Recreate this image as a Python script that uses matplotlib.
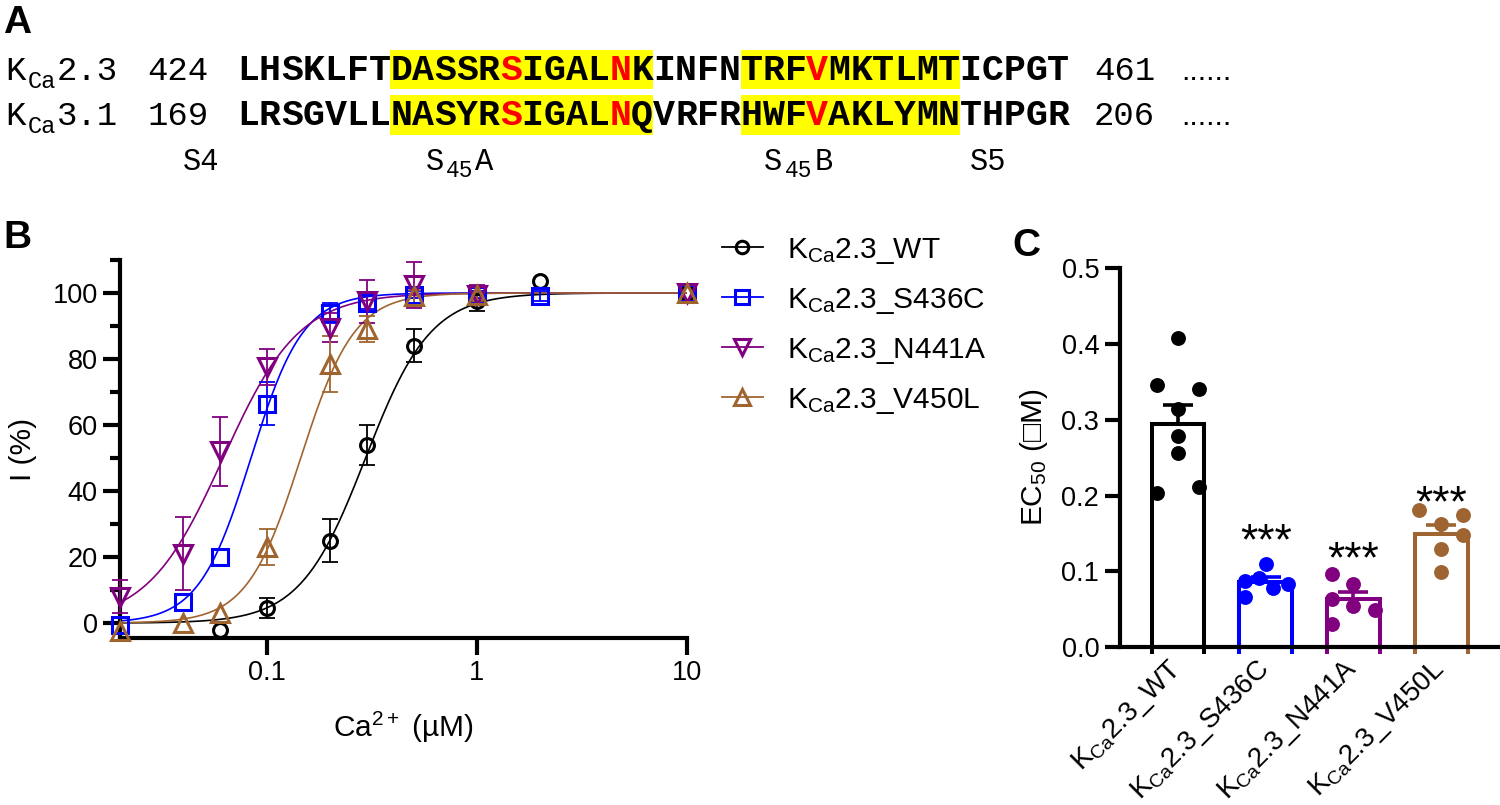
import numpy as np
import matplotlib
matplotlib.use("Agg")
import matplotlib.pyplot as plt
from matplotlib.patches import Rectangle
from matplotlib.ticker import MultipleLocator, NullLocator

plt.rcParams['font.family'] = ['Liberation Sans', 'DejaVu Sans']
plt.rcParams['mathtext.fontset'] = 'custom'
plt.rcParams['mathtext.rm'] = 'Liberation Sans'
plt.rcParams['mathtext.it'] = 'Liberation Sans:italic'
plt.rcParams['mathtext.bf'] = 'Liberation Sans:bold'

######################
## PANEL A : ALIGN  ##
######################
chan_names = ['2.3', '3.1']
seq_first = ['424', '169']
seq_last = ['461', '206']
seqs = ['LHSKLFTDASSRSIGALNKINFNTRFVMKTLMTICPGT',
        'LRSGVLLNASYRSIGALNQVRFRHWFVAKLYMNTHPGR']
hl_blocks = [(7, 19), (23, 33)]     # highlighted residue ranges
red_res = [12, 17, 26]              # S436 / N441 / V450 positions

######################
## PANEL B : CURVES ##
######################
labels = ['WT', 'S436C', 'N441A', 'V450L']
colors = ['black', '#0000FF', '#800080', '#A0652F']
markers = ['o', 's', 'v', '^']

conc_wt = [0.06, 0.1, 0.2, 0.3, 0.5, 1, 2, 10]
i_wt = [-2, 4.5, 25, 54, 84, 97.5, 103.5, 100]
e_wt = [0, 3, 6.5, 6, 5, 3, 0, 0]

conc_s = [0.02, 0.04, 0.06, 0.1, 0.2, 0.3, 0.5, 1, 2, 10]
i_s = [-0.5, 6.5, 20, 66.5, 94, 97, 99.5, 99.5, 99, 100]
e_s = [0, 0, 0, 6.5, 3, 2, 1, 1, 1.5, 0]

conc_n = [0.02, 0.04, 0.06, 0.1, 0.2, 0.3, 0.5, 1, 10]
i_n = [8, 21, 52, 77.5, 89.5, 97.5, 102.5, 99.5, 100]
e_n = [5, 11, 10.5, 5.5, 4.5, 6.5, 7, 3, 0]

conc_v = [0.02, 0.04, 0.06, 0.1, 0.2, 0.3, 0.5, 1, 10]
i_v = [-2.5, 0, 3, 23, 78.5, 89, 99, 99.5, 100]
e_v = [0, 0, 0, 5.5, 8.5, 4, 2, 2, 0]

fit_ec50 = [0.295, 0.084, 0.062, 0.145]
fit_hill = [2.8, 3.5, 2.4, 3.4]

######################
## PANEL C : EC50   ##
######################
ec_wt = [0.408, 0.346, 0.341, 0.314, 0.278, 0.256, 0.203, 0.211]
ec_s = [0.110, 0.088, 0.091, 0.078, 0.084, 0.066]
ec_n = [0.097, 0.084, 0.064, 0.055, 0.049, 0.031]
ec_v = [0.181, 0.174, 0.163, 0.148, 0.130, 0.099]
# horizontal scatter of the dots inside each bar
jit_wt = [0, -0.24, 0.24, 0, 0, 0, -0.24, 0.24]
jit_s = [0, -0.24, -0.08, 0.08, 0.25, -0.24]
jit_n = [-0.24, 0, -0.24, 0, 0.25, -0.24]
jit_v = [-0.25, 0.25, 0, 0.25, 0, 0]
star_base = [None, 0.123, 0.099, 0.173]


fig = plt.figure(figsize=(15, 8.05), dpi=100)

# full-figure axes in pixel units for the sequence panel, legend and letters
axA = fig.add_axes([0, 0, 1, 1])
axA.set_xlim(0, 1500)
axA.set_ylim(805, 0)
axA.axis('off')

cw = 21.9
x0 = 237
row_base = [80, 125]
row_box = [(50, 89), (95, 135)]
mono = 'Liberation Mono'
for r in range(2):
    for a, b in hl_blocks:
        axA.add_patch(Rectangle((x0 + a * cw, row_box[r][0]), (b - a) * cw,
                                row_box[r][1] - row_box[r][0],
                                facecolor='#FFFF00', lw=0))
    for i, ch in enumerate(seqs[r]):
        axA.text(x0 + (i + 0.5) * cw, row_base[r], ch, family=mono,
                 weight='bold', size=26.3, ha='center', va='baseline',
                 color='red' if i in red_res else 'black')
    yb = row_base[r]
    axA.text(5, yb, 'K', family=mono, size=24.5, va='baseline')
    axA.text(28, yb + 8, 'Ca', family=mono, size=17, va='baseline')
    axA.text(57, yb, chan_names[r], family=mono, size=24.5, va='baseline')
    axA.text(147, yb, seq_first[r], family=mono, size=24.5, va='baseline')
    axA.text(1094, yb, seq_last[r], family=mono, size=24.5, va='baseline')
    axA.text(1181, yb, '......', size=22, va='baseline')

sb = 170
axA.text(183, sb, 'S4', family=mono, size=22, va='baseline')
axA.text(426, sb, 'S', family=mono, size=22, va='baseline')
axA.text(446, sb + 7, '45', family=mono, size=16.5, va='baseline')
axA.text(475, sb, 'A', family=mono, size=22, va='baseline')
axA.text(764, sb, 'S', family=mono, size=22, va='baseline')
axA.text(785, sb + 7, '45', family=mono, size=16.5, va='baseline')
axA.text(815, sb, 'B', family=mono, size=22, va='baseline')
axA.text(970, sb, 'S5', family=mono, size=22, va='baseline')

axA.text(3, 33, 'A', weight='bold', size=28, va='baseline')
axA.text(3, 248, 'B', weight='bold', size=28, va='baseline')
axA.text(1012, 256, 'C', weight='bold', size=28, va='baseline')

#############
## PANEL B ##
#############
axB = fig.add_axes([0.08, 0.2075, 0.378, 0.4696])
axB.set_xscale('log')
axB.set_xlim(0.02, 10)
axB.set_ylim(-4.5, 110)

xx = np.logspace(np.log10(0.02), 1, 400)
series = [(conc_wt, i_wt, e_wt), (conc_s, i_s, e_s),
          (conc_n, i_n, e_n), (conc_v, i_v, e_v)]
msize = [10, 11, 13, 13]
for k, (cx, cy, ce) in enumerate(series):
    col = colors[k]
    ec, nh = fit_ec50[k], fit_hill[k]
    axB.plot(xx, 100 * xx**nh / (ec**nh + xx**nh), color=col, lw=1.2, zorder=2)
    cx, cy, ce = np.array(cx), np.array(cy), np.array(ce)
    m = ce > 0
    axB.errorbar(cx[m], cy[m], yerr=ce[m], fmt='none', ecolor=col,
                 elinewidth=1.3, capsize=5.5, capthick=1.3, zorder=3,
                 clip_on=False)
    axB.plot(cx, cy, ls='none', marker=markers[k], ms=msize[k], mfc='none',
             mec=col, mew=2.2, zorder=4, clip_on=False)

for s in ['top', 'right']:
    axB.spines[s].set_visible(False)
for s in ['left', 'bottom']:
    axB.spines[s].set_linewidth(3)
axB.set_xticks([0.1, 1, 10])
axB.set_xticklabels(['0.1', '1', '10'])
axB.xaxis.set_minor_locator(NullLocator())
axB.set_yticks(range(0, 101, 20))
axB.yaxis.set_minor_locator(MultipleLocator(10))
axB.tick_params(which='major', length=12, width=3, labelsize=19.5, pad=4)
axB.tick_params(which='minor', length=7, width=3)
axB.set_ylabel('I (%)', size=21.5)
axB.yaxis.set_label_coords(-0.146, 0.5)
axB.set_xlabel('Ca$^{2+}$ (\u00b5M)', size=21.5, va='top')
axB.xaxis.set_label_coords(0.5, -0.19)

# legend
leg_y = [247, 297, 347, 397]
for k in range(4):
    y = leg_y[k]
    axA.plot([722, 763], [y, y], color=colors[k], lw=1.3)
    axA.plot([742], [y], ls='none', marker=markers[k], ms=msize[k] - 1,
             mfc='none', mec=colors[k], mew=2.2)
    axA.text(787, y + 11, 'K$_{\\mathrm{Ca}}$2.3_' + labels[k], size=21.5,
             va='baseline')

#############
## PANEL C ##
#############
axC = fig.add_axes([0.7467, 0.196, 0.2533, 0.4708])
groups = [(ec_wt, jit_wt), (ec_s, jit_s), (ec_n, jit_n), (ec_v, jit_v)]
dotcol = ['black', '#0000FF', '#800080', '#9E6432']
bw = 0.6
for k, (pts, jit) in enumerate(groups):
    pts = np.array(pts)
    mean = pts.mean()
    sem = pts.std(ddof=1) / np.sqrt(len(pts))
    axC.bar(k, mean, width=bw, facecolor='white', edgecolor=dotcol[k],
            lw=2.9, zorder=2, joinstyle='miter')
    axC.vlines([k - bw / 2, k + bw / 2], -0.009, 0, color=dotcol[k], lw=2.9,
               clip_on=False, zorder=2)
    axC.scatter(k + np.array(jit), pts, s=115, color=dotcol[k], zorder=3,
                clip_on=False, linewidths=0)
    axC.errorbar([k], [mean], yerr=[[0], [sem]], fmt='none', ecolor=dotcol[k],
                 elinewidth=2.6, capsize=11, capthick=2.6, zorder=4)
    if star_base[k] is not None:
        axC.text(k, star_base[k], '***', ha='center', va='baseline', size=32)

axC.set_xlim(-0.66, 3.67)
axC.set_ylim(0, 0.5)
for s in ['top', 'right']:
    axC.spines[s].set_visible(False)
for s in ['left', 'bottom']:
    axC.spines[s].set_linewidth(3)
axC.spines['bottom'].set_zorder(5)
axC.set_yticks(np.arange(0, 0.51, 0.1))
axC.set_yticklabels(['%.1f' % v for v in np.arange(0, 0.51, 0.1)])
axC.tick_params(axis='y', length=11, width=3, labelsize=19.5, pad=4)
axC.set_xticks(range(4))
axC.set_xticklabels(['K$_{\\mathrm{Ca}}$2.3_' + l for l in labels],
                    rotation=45, ha='right', va='center',
                    rotation_mode='anchor', size=20)
axC.tick_params(axis='x', length=0, pad=13)
axC.set_ylabel('EC$_{50}$ (\u25a1M)', size=21.5)
axC.yaxis.set_label_coords(-0.184, 0.5)

fig.savefig('out.png', dpi=100)
